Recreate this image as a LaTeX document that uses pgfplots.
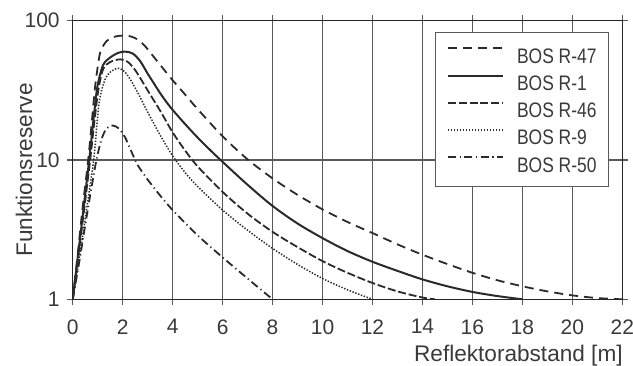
\documentclass[border=0pt]{standalone}
\usepackage{fontspec}
\setmainfont{Liberation Sans}
\usepackage{graphicx}
\usepackage{pgfplots}
\pgfplotsset{compat=1.18}
\definecolor{txt}{HTML}{3A3A3A}
\definecolor{crv}{HTML}{2A2A2A}
\definecolor{grd}{HTML}{5A5A5A}
\newcommand{\lgt}[1]{\scalebox{0.83}[1]{#1}}
\begin{document}
\begin{tikzpicture}
\begin{axis}[
  at={(0,0)}, anchor=south west,
  scale only axis, width=274.8pt, height=139.3pt,
  xmin=0, xmax=22, ymin=1, ymax=100, ymode=log,
  xtick={0,2,...,22},
  ytick={1,10,100}, yticklabels={1,10,100}, yminorticks=false,
  grid=major, major grid style={grd, line width=0.6pt},
  axis line style={black!85, line width=0.6pt},
  tick style={grd, line width=0.6pt}, major tick length=3pt,
  tick align=outside, tick pos=both,
  ticklabel style={font=\fontsize{10.5}{12}\selectfont, text=txt},
  xticklabel style={yshift=-3.5pt},
  /pgf/number format/assume math mode=true,
  xlabel={Reflektorabstand [m]},
  xlabel style={at={(axis description cs:1.0135,-0.224)}, anchor=base east,
    font=\fontsize{11.3}{13}\selectfont, text=txt},
  ylabel={Funktionsreserve},
  ylabel style={at={(axis description cs:-0.0886,0.464)}, anchor=center,
    font=\fontsize{11.3}{13}\selectfont, text=txt},
  legend style={at={(0.9758,0.9594)}, anchor=north east, draw=grd, line width=0.5pt,
    fill=white, font=\fontsize{10.5}{12}\selectfont, text=txt,
    inner xsep=6pt, inner ysep=7.4pt, row sep=5.55pt, column sep=6.5pt,
    nodes={inner sep=0pt, text height=7.6pt, text depth=0pt}},
  legend cell align=left,
  legend image code/.code={\draw[#1] (0pt,3.8pt) -- (27.5pt,3.8pt);},
]
% BOS R-47
\addplot[crv, line width=0.9pt, dash pattern=on 4.5pt off 3pt, smooth, tension=0.5] coordinates {
(0,1)(0.2,2.1)(0.4,4.6)(0.62,10)(0.8,22)(0.9,34)(1.07,56)(1.2,65)(1.36,71.5)(1.6,76)(1.9,78)(2.2,78)(2.5,75)(2.8,68.4)(3.0,62.4)(3.5,48.2)(4,37.4)(4.5,29.5)(5,23.2)(6,14.8)(7,10.1)(8,7.38)(9,5.62)(10,4.42)(11,3.59)(12,2.99)(13,2.48)(14,2.09)(15,1.79)(16,1.55)(17,1.37)(18,1.24)(19,1.14)(20,1.067)(21,1.021)(22,1.0)};
\addlegendentry{\lgt{BOS R-47}}
% BOS R-1
\addplot[crv, line width=1pt, smooth, tension=0.5] coordinates {
(0,1)(0.3,2.8)(0.66,10)(0.83,19.4)(0.98,33)(1.15,44.5)(1.29,50.5)(1.6,56)(1.85,59)(2.1,60)(2.4,58.2)(2.7,51.3)(3.0,41.7)(3.25,35.5)(3.5,30.2)(3.75,26.1)(4,22.9)(4.5,18.1)(5,14.5)(5.5,11.8)(6,9.7)(7,6.64)(8,4.68)(9,3.5)(10,2.75)(11,2.22)(12,1.86)(13,1.6)(14,1.39)(15,1.24)(16,1.13)(17,1.055)(18,1.0)};
\addlegendentry{\lgt{BOS R-1}}
% BOS R-46
\addplot[crv, line width=0.9pt, dash pattern=on 4pt off 1.4pt, smooth, tension=0.5] coordinates {
(0,1)(0.2,1.9)(0.45,4.3)(0.7,10)(0.87,19)(1.03,32)(1.22,45)(1.5,50.5)(1.9,52.8)(2.2,50.7)(2.5,44.2)(2.8,36.3)(3.0,31.6)(3.5,22.6)(4,15.8)(4.5,11.7)(5,9.0)(6,5.9)(7,4.12)(8,3.05)(9,2.37)(10,1.88)(11,1.55)(12,1.31)(13,1.14)(14,1.03)(14.5,1.0)};
\addlegendentry{\lgt{BOS R-46}}
% BOS R-9
\addplot[crv, line width=0.75pt, dash pattern=on 0.7pt off 0.8pt, smooth, tension=0.5] coordinates {
(0,1)(0.25,1.9)(0.5,3.8)(0.84,10)(0.98,19)(1.09,28)(1.3,38)(1.55,43.5)(1.85,45.5)(2.1,42.7)(2.4,35.5)(2.7,28.2)(3.0,22.1)(3.5,15.1)(4,10.7)(4.5,8.13)(5,6.46)(6,4.37)(7,3.13)(8,2.32)(9,1.78)(10,1.41)(11,1.17)(12,1.0)};
\addlegendentry{\lgt{BOS R-9}}
% BOS R-50
\addplot[crv, line width=0.9pt, dash pattern=on 4pt off 1.8pt on 0.6pt off 1.8pt, smooth, tension=0.5] coordinates {
(0,1)(0.25,1.8)(0.5,3.4)(0.75,6.3)(0.95,10)(1.15,14)(1.35,16.8)(1.6,17.7)(1.85,16.8)(2.1,14.5)(2.35,11.5)(2.6,9.2)(3,7.24)(3.5,5.56)(4,4.37)(5,2.88)(6,2.0)(7,1.41)(8,1.0)};
\addlegendentry{\lgt{BOS R-50}}
\end{axis}
\pgfresetboundingbox
\useasboundingbox (-36.35pt,-32.85pt) rectangle (280.15pt,149.65pt);
\end{tikzpicture}
\end{document}
